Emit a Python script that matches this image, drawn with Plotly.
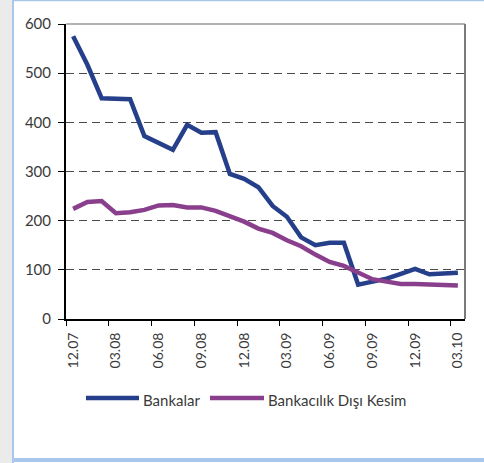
import plotly.graph_objects as go

# Monthly observations, Dec 2007 - Mar 2010
months = ["12.07", "01.08", "02.08", "03.08", "04.08", "05.08", "06.08", "07.08",
          "08.08", "09.08", "10.08", "11.08", "12.08", "01.09", "02.09", "03.09",
          "04.09", "05.09", "06.09", "07.09", "08.09", "09.09", "10.09", "11.09",
          "12.09", "01.10", "02.10", "03.10"]

bankalar = [575, 517, 449, 449, 447, 372, 358, 344, 395, 379, 380, 295,
            285, 268, 230, 208, 166, 150, 155, 155, 70, 77, 82, 92,
            102, 91, 92, 94]

bankacilik_disi = [224, 238, 240, 215, 217, 222, 231, 232, 227, 227, 220, 209,
                   198, 184, 175, 160, 148, 131, 116, 108, 94, 81, 76, 71,
                   71, 70, 69, 68]

series_names = ["Bankalar", "Bankacılık Dışı Kesim"]
series_colors = ["#263F8A", "#8A3F8D"]

W, H = 484, 463
L, R, T, B = 66, 19, 24, 144
PW, PH = W - L - R, H - T - B


def px_x(px):
    return (px - L) / PW


def px_y(py):
    return (H - B - py) / PH


FONT = "Lato"
TXT = "#3a3a3a"

fig = go.Figure()
for name, vals, col in zip(series_names, [bankalar, bankacilik_disi], series_colors):
    fig.add_trace(go.Scatter(
        x=months, y=vals, name=name, mode="lines",
        line=dict(color=col, width=4.5, shape="linear"),
        showlegend=False,
    ))

shapes = []
# page frame: grey strip and light-blue border
shapes.append(dict(type="rect", xref="paper", yref="paper",
                   x0=px_x(0), x1=px_x(12), y0=px_y(H), y1=px_y(0),
                   fillcolor="#EBEBEB", line=dict(width=0), layer="below"))
shapes.append(dict(type="line", xref="paper", yref="paper",
                   x0=px_x(13), x1=px_x(13), y0=px_y(H), y1=px_y(0),
                   line=dict(color="#A7C7EC", width=2)))
shapes.append(dict(type="line", xref="paper", yref="paper",
                   x0=px_x(12), x1=px_x(W), y0=px_y(0.5), y1=px_y(0.5),
                   line=dict(color="#A7C7EC", width=1.5)))
shapes.append(dict(type="line", xref="paper", yref="paper",
                   x0=px_x(12), x1=px_x(W), y0=px_y(460), y1=px_y(460),
                   line=dict(color="#A7C7EC", width=4)))
# plot frame (top and right edges)
shapes.append(dict(type="line", xref="paper", yref="paper",
                   x0=1, x1=1, y0=0, y1=1,
                   line=dict(color="#7A7A7A", width=2)))
shapes.append(dict(type="line", xref="paper", yref="paper",
                   x0=0, x1=1, y0=1, y1=1,
                   line=dict(color="#9A9A9A", width=1.5), layer="below"))

# legend drawn below the plot
legend_y = px_y(398)
legend_items = [(86, 139, 141), (210, 264, 266)]
annotations = []
for (xa, xb, xt), name, col in zip(legend_items, series_names, series_colors):
    shapes.append(dict(type="line", xref="paper", yref="paper",
                       x0=px_x(xa), x1=px_x(xb), y0=legend_y, y1=legend_y,
                       line=dict(color=col, width=4.5)))
    annotations.append(dict(xref="paper", yref="paper", x=px_x(xt), y=px_y(400),
                            text=name, showarrow=False, xanchor="left",
                            yanchor="middle",
                            font=dict(family=FONT, size=15, color=TXT)))

fig.update_layout(
    width=W, height=H,
    margin=dict(l=L, r=R, t=T, b=B),
    paper_bgcolor="white", plot_bgcolor="white",
    font=dict(family=FONT, size=15, color=TXT),
    shapes=shapes, annotations=annotations,
    showlegend=False,
    xaxis=dict(
        type="category", range=[-0.5, 27.5],
        tickmode="linear", tick0=0, dtick=3,
        tickson="boundaries", tickangle=-90,
        ticks="outside", ticklen=5, tickwidth=1, tickcolor="black",
        ticklabelstandoff=6,
        showline=True, linecolor="black", linewidth=2,
        showgrid=False, zeroline=False,
        tickfont=dict(family=FONT, size=14, color=TXT),
    ),
    yaxis=dict(
        range=[0, 600], tickmode="linear", tick0=0, dtick=100,
        ticks="outside", ticklen=6, tickwidth=1, tickcolor="black",
        ticklabelstandoff=4,
        showline=True, linecolor="black", linewidth=2,
        showgrid=True, gridcolor="#4a4a4a", gridwidth=1, griddash="8px,5px",
        zeroline=False,
        tickfont=dict(family=FONT, size=15, color=TXT),
    ),
)

fig.write_html("out.html")
